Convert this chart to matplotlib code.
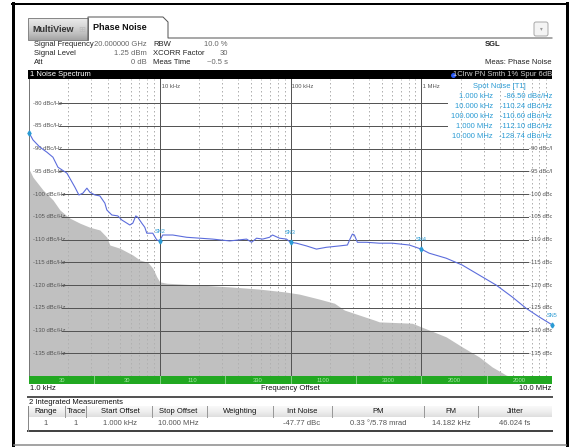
import matplotlib
matplotlib.use('Agg')
import matplotlib.pyplot as plt
import numpy as np
from matplotlib.patches import Rectangle, FancyBboxPatch

plt.rcParams['font.family'] = ['Liberation Sans Narrow', 'Liberation Sans', 'DejaVu Sans']

W, H = 569, 447

# measured phase noise trace, offset in Hz / dBc/Hz
trace_f = [1000, 1073, 1213, 1372, 1525, 1665, 1950, 2245, 2408, 2584,
           2772, 2922, 3190, 3483, 3804, 3939, 4301, 4779, 5128, 5902,
           6222, 6559, 6792, 7288, 7683, 7958, 8843, 9487, 10000, 10540,
           12570, 16070, 20200, 25390, 34220, 46140, 50390, 55030, 61130, 69130,
           72880, 82410, 93200, 100000, 111100, 132500, 157900, 188300, 236600, 272400,
           287100, 297400, 308000, 324700, 380400, 478000, 600500, 809600, 1000000, 1151000,
           1551000, 2056000, 2771000, 3737000, 4951000, 6331000, 7960000, 9826000, 10000000]
trace_db = [-86.5, -88.1, -89.7, -90.8, -91.9, -94.1, -95.4, -98.5, -100.2, -99.8,
            -98.7, -99.6, -100.2, -100.4, -102.0, -103.5, -104.6, -104.8, -105.7, -106.8,
            -106.4, -104.8, -105.1, -106.4, -107.3, -108.6, -108.6, -110.1, -110.24, -109.0,
            -109.0, -109.5, -109.7, -109.9, -110.3, -109.9, -110.6, -109.7, -109.9, -109.5,
            -109.0, -109.7, -109.9, -110.6, -110.8, -111.4, -112.1, -111.7, -111.4, -111.2,
            -109.7, -108.8, -109.0, -110.6, -110.6, -110.8, -110.8, -111.2, -112.1, -113.0,
            -114.1, -115.6, -117.8, -120.0, -122.6, -125.1, -127.0, -128.6, -128.74]

# xcorr sensitivity (gray area)
floor_f = [1000, 1073, 1279, 1525, 1724, 1950, 2056, 2451, 2922, 3483,
           3939, 4153, 4951, 6222, 7035, 8096, 8843, 9487, 10000, 11310,
           20200, 34220, 57990, 90000, 117100, 166500, 216700, 258400, 336300, 437800,
           478000, 853900, 1000000, 1151000, 1551000, 2056000, 2771000, 3483000, 4456000, 4697000]
floor_db = [-94.5, -96.3, -99.1, -101.3, -103.5, -104.8, -105.3, -106.4, -107.3, -107.9,
            -109.5, -111.2, -111.9, -113.4, -114.5, -115.0, -116.3, -118.2, -119.3, -119.6,
            -120.0, -120.4, -120.9, -121.5, -122.0, -123.1, -124.0, -125.5, -126.6, -127.7,
            -128.1, -128.4, -129.2, -129.9, -131.4, -133.6, -135.8, -138.0, -139.8, -140.0]

spot_f = [1e3, 1e4, 1e5, 1e6, 1e7]
spot_db = [-86.50, -110.24, -110.60, -112.10, -128.74]
spot_f_txt = ['1.000 kHz', '10.000 kHz', '100.000 kHz', '1.000 MHz', '10.000 MHz']
marker_names = ['SN1', 'SN2', 'SN3', 'SN4', 'SN5']

y_levels = [-80, -85, -90, -95, -100, -105, -110, -115, -120, -125, -130, -135]
decades = [1e4, 1e5, 1e6]
decade_txt = ['10 kHz', '100 kHz', '1 MHz']
seg_txt = ['30', '30', '110', '330', '1100', '3300', '2000', '2000']

info_left = [('Signal Frequency', '20.000000 GHz'), ('Signal Level', '1.25 dBm'), ('Att', '0 dB')]
info_mid = [('RBW', '10.0 %'), ('XCORR Factor', '30'), ('Meas Time', '~0.5 s')]

tbl_head = ['Range', 'Trace', 'Start Offset', 'Stop Offset', 'Weighting',
            'Int Noise', 'PM', 'FM', 'Jitter']
tbl_row = ['1', '1', '1.000 kHz', '10.000 MHz', '', '-47.77 dBc',
           '0.33 \u00b0/5.78 mrad', '14.182 kHz', '46.024 fs']
tbl_x = [46, 76, 120, 178, 240, 302, 378, 451, 515]
tbl_sep = [65, 86, 152, 207, 273, 332, 424, 478]

CYAN = '#2a9bd4'
TRACE = '#5b6cdc'
GRID = '#555555'

fig = plt.figure(figsize=(W / 100, H / 100), dpi=100)
bg = fig.add_axes([0, 0, 1, 1])
bg.axis('off')

def px(v):
    return v * 0.72

# outer frame
bg.plot([13.5, 13.5], [3, 447], color='black', lw=px(3))
bg.plot([12, 569], [4, 4], color='black', lw=px(2))
bg.plot([567, 567], [3, 447], color='black', lw=px(3))
bg.plot([14, 566], [445, 445], color='#888888', lw=px(1.5))

# tabs
grad = np.linspace(0.15, 0.45, 20).reshape(-1, 1)
bg.imshow(grad, extent=(28, 88, 40, 18), cmap='Greys', vmin=0, vmax=1, aspect='auto', zorder=1)
bg.add_patch(Rectangle((28, 18), 60, 22, fill=False, ec='#888888', lw=px(1), zorder=2))
bg.text(32, 29, 'MultiView', fontsize=6.5, fontweight='bold', color='#333333', va='center')
bg.text(78, 29, '\u229e', fontsize=6, color='#bbbbbb', va='center', family=['DejaVu Sans'])
bg.plot([88, 88, 163, 168, 168, 552], [40, 17, 17, 22, 38, 38], color='#555555', lw=px(1))
bg.text(93, 28, 'Phase Noise', fontsize=6.5, fontweight='bold', color='#111111', va='center')
bg.add_patch(FancyBboxPatch((534, 22), 14, 14, boxstyle='round,pad=0,rounding_size=2',
                            fc='#f4f4f4', ec='#aaaaaa', lw=px(1)))
bg.text(541, 29, '\u25be', fontsize=4, color='#999999', ha='center', va='center',
        family=['DejaVu Sans'])

# settings block
for i, (lab, val) in enumerate(info_left):
    y = 45 + i * 8.7
    bg.text(34, y, lab, fontsize=5.5, color='#222222', va='center')
    bg.text(147, y, val, fontsize=5.5, color='#666666', va='center', ha='right')
for i, (lab, val) in enumerate(info_mid):
    y = 45 + i * 8.7
    bg.text(153, y, lab, fontsize=5.5, color='#222222', va='center')
    bg.text(228, y, val, fontsize=5.5, color='#666666', va='center', ha='right')
bg.text(485, 45, 'SGL', fontsize=5.5, fontweight='bold', color='#222222', va='center')
bg.text(552, 62, 'Meas: Phase Noise', fontsize=5.5, color='#222222', va='center', ha='right')

# window header
bg.add_patch(Rectangle((28, 70), 524, 9, fc='black', ec='none'))
bg.text(30, 74.5, '1 Noise Spectrum', fontsize=5.5, color='white', va='center')
bg.text(552, 74.5, '1Clrw PN Smth 1% Spur 6dB', fontsize=5.5, color='#cccccc',
        va='center', ha='right')
bg.plot([453], [74.5], 'o', ms=2.5, color='#2a5cff')

# bottom labels under the trace window
bg.text(30, 389, '1.0 kHz', fontsize=5.5, color='#111111', va='center')
bg.text(290, 389, 'Frequency Offset', fontsize=5.5, color='#111111', va='center', ha='center')
bg.text(551, 389, '10.0 MHz', fontsize=5.5, color='#111111', va='center', ha='right')
bg.plot([28, 552], [396.5, 396.5], color='#555555', lw=px(2))

# integrated measurement table
bg.text(29, 402, '2 Integrated Measurements', fontsize=5.5, color='#111111', va='center')
grad2 = np.linspace(0.05, 0.22, 20).reshape(-1, 1)
bg.imshow(grad2, extent=(28, 552, 417, 406), cmap='Greys', vmin=0, vmax=1, aspect='auto')
for sx in tbl_sep:
    bg.plot([sx, sx], [406, 417], color='#999999', lw=px(1))
for cx, t in zip(tbl_x, tbl_head):
    bg.text(cx, 411.5, t, fontsize=5.5, color='#111111', va='center', ha='center')
for cx, t in zip(tbl_x, tbl_row):
    bg.text(cx, 423.5, t, fontsize=5.5, color='#555555', va='center', ha='center')
bg.plot([28, 552], [430.5, 430.5], color='#444444', lw=px(2))
bg.plot([28, 28], [406, 431], color='#888888', lw=px(1))

bg.set_xlim(0, W)
bg.set_ylim(H, 0)

# trace window
ax = fig.add_axes([29 / W, (H - 376) / H, 523 / W, 297 / H])
ax.set_xscale('log')
ax.set_xlim(1e3, 1e7)
ax.set_ylim(-140, -74.7)
ax.fill_between(floor_f, floor_db, -140, color='#c0c0c0', lw=0, zorder=1)

minor = [m * d for d in [1e3, 1e4, 1e5, 1e6] for m in range(2, 10)]
for f in minor:
    ax.axvline(f, color='#b0b0b0', lw=px(1), ls=(0, (1.5, 2.5)), zorder=2)
for f, t in zip(decades, decade_txt):
    ax.axvline(f, color=GRID, lw=px(1), zorder=2)
    ax.text(f, -76.3, ' ' + t, fontsize=4.2, color='#555555', va='center', ha='left')

yx = ax.get_yaxis_transform()
for lv in y_levels:
    lab = '%d dBc/Hz' % lv
    x0 = (62 - 29) / 523 if lv <= -100 else (59 - 29) / 523
    x1 = (447 - 29) / 523 if lv > -90 else (528 - 29) / 523
    ax.plot([x0, x1], [lv, lv], color=GRID, lw=px(1), transform=yx, zorder=2)
    ax.text(4 / 523, lv, lab, fontsize=4.2, color='#555555', va='center', ha='left',
            transform=yx, zorder=3)
    if lv <= -90:
        ax.text(500 / 523, lv, lab, fontsize=4.2, color='#555555', va='center', ha='left',
                transform=yx, zorder=3, clip_on=True)

ax.plot(trace_f, trace_db, color=TRACE, lw=px(1.1), zorder=4)
ax.plot(spot_f, spot_db, 'd', ms=2.5, color=CYAN, zorder=5, clip_on=False)
for f, d, n in zip(spot_f[1:], spot_db[1:], marker_names[1:]):
    ax.text(f, d + 1.5, n, fontsize=4, color=CYAN, ha='center', va='bottom', zorder=5)

# spot noise readout
ax.text(499, 86, 'Spot Noise [T1]', fontsize=5.5, color=CYAN, ha='center', va='center',
        transform=bg.transData, zorder=6)
for i, (t, d) in enumerate(zip(spot_f_txt, spot_db)):
    y = 96 + i * 10.2
    ax.text(493, y, t, fontsize=5.5, color=CYAN, ha='right', va='center',
            transform=bg.transData, zorder=6)
    ax.text(552, y, '%.2f dBc/Hz' % d, fontsize=5.5, color=CYAN, ha='right', va='center',
            transform=bg.transData, zorder=6)

ax.set_xticks([])
ax.set_yticks([])
ax.minorticks_off()
for s in ['top', 'right', 'bottom']:
    ax.spines[s].set_visible(False)
ax.spines['left'].set_color('#777777')
ax.spines['left'].set_linewidth(px(1))

# green status strip below the trace
gax = fig.add_axes([29 / W, (H - 384) / H, 523 / W, 8 / H])
gax.set_xscale('log')
gax.set_xlim(1e3, 1e7)
gax.set_ylim(0, 1)
gax.set_facecolor('#21a821')
for k in range(1, 8):
    gax.axvline(10 ** (3 + 0.5 * k), color='#7fd07f', lw=px(1))
for k, t in enumerate(seg_txt):
    gax.text(10 ** (3.25 + 0.5 * k), 0.5, t, fontsize=4.2, color='#a8e6a8',
             ha='center', va='center')
gax.set_xticks([])
gax.set_yticks([])
gax.minorticks_off()
for s in gax.spines.values():
    s.set_visible(False)

fig.savefig('out.png', dpi=100)
